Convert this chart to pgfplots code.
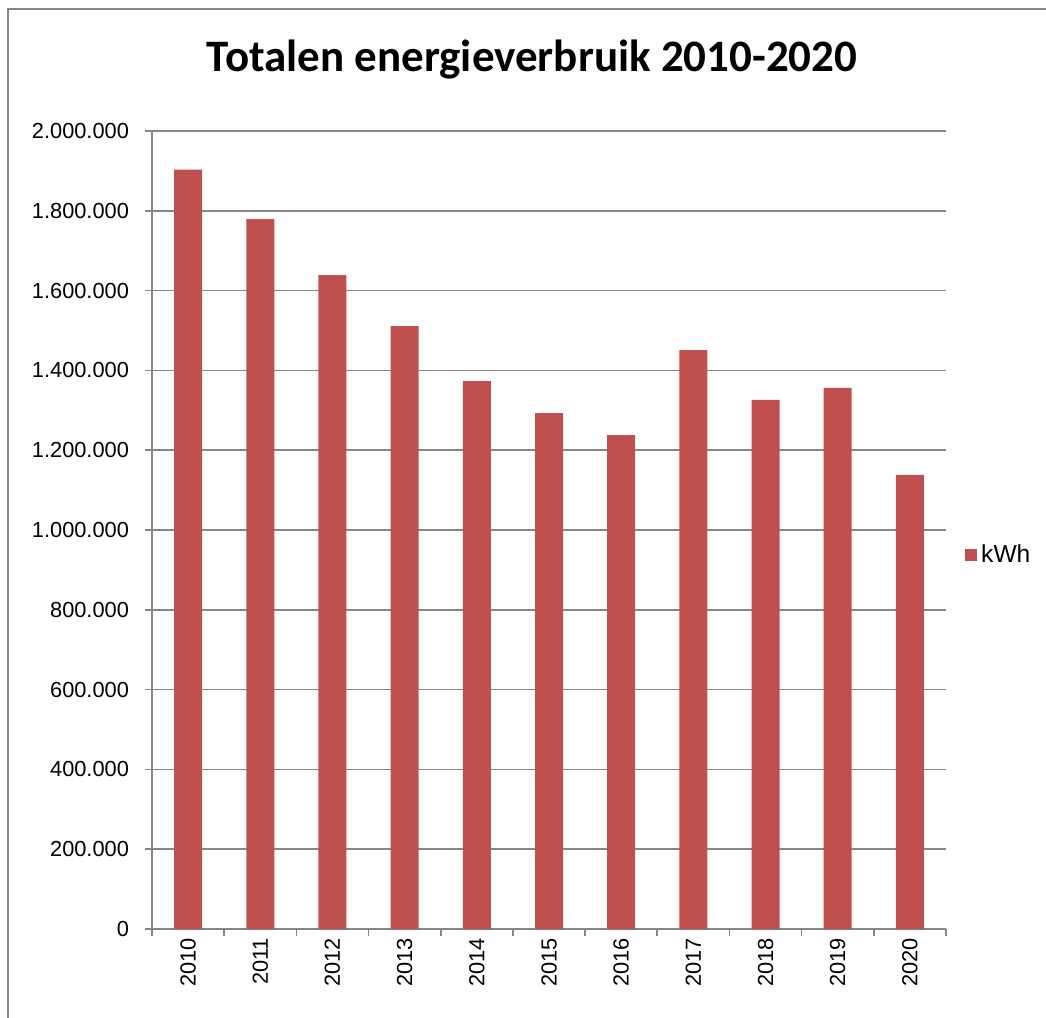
\documentclass[border=0pt]{standalone}
\usepackage{pgfplots}
\pgfplotsset{compat=1.18}
\usepackage{fontspec}
\setmainfont{Liberation Sans}
\newfontfamily\titlefont{Carlito}

\definecolor{barred}{HTML}{C0504D}
\definecolor{gridgray}{HTML}{878787}

% jaar, kWh
\pgfplotstableread{
x y
0 1903000
1 1779000
2 1639000
3 1511000
4 1373000
5 1293000
6 1238000
7 1451000
8 1326000
9 1356000
10 1138000
}\verbruik

\begin{document}
\begin{tikzpicture}
% 1 px of the reference = 0.5pt
\useasboundingbox (0,0) rectangle (523pt,509pt);
\draw[gridgray, line width=1.2pt] (4pt,0) -- (4pt,504.5pt) -- (523pt,504.5pt);
\node[anchor=base, font=\titlefont\bfseries\fontsize{22.5}{26}\selectfont] at (266pt,473pt) {Totalen energieverbruik 2010-2020};

\begin{axis}[
  at={(76pt,44.5pt)}, anchor=south west,
  width=397pt, height=399pt, scale only axis,
  xmin=-0.5, xmax=10.5,
  ymin=0, ymax=2000000,
  axis x line*=bottom, axis y line*=left,
  axis line style={gridgray, line width=0.8pt, -},
  ytick={0,200000,...,2000000},
  scaled y ticks=false,
  yticklabel style={xshift=-4.5pt, /pgf/number format/.cd, fixed, 1000 sep={.}, assume math mode=true},
  ymajorgrids, grid style={gridgray, line width=0.8pt},
  xtick={-0.5,0.5,...,10.5},
  xticklabels={},
  extra x ticks={0,...,10},
  extra x tick labels={2010,2011,2012,2013,2014,2015,2016,2017,2018,2019,2020},
  extra x tick style={major tick length=0pt,
    xticklabel style={rotate=90, anchor=east, xshift=-1pt}},
  tick align=outside,
  major tick length=3.5pt,
  tick style={gridgray, line width=0.8pt},
  ticklabel style={font=\fontsize{10.9}{13}\selectfont},
  legend style={draw=none, at={(1.0237,0.4687)}, anchor=west,
    font=\fontsize{12.3}{14}\selectfont, inner sep=0pt},
  legend image code/.code={\fill[#1] (0pt,-3pt) rectangle (6pt,3pt);},
]
\addplot[ybar, bar width=14pt, fill=barred, draw=none] table[x=x, y=y] {\verbruik};
\addlegendentry{kWh}
\end{axis}
\end{tikzpicture}
\end{document}
